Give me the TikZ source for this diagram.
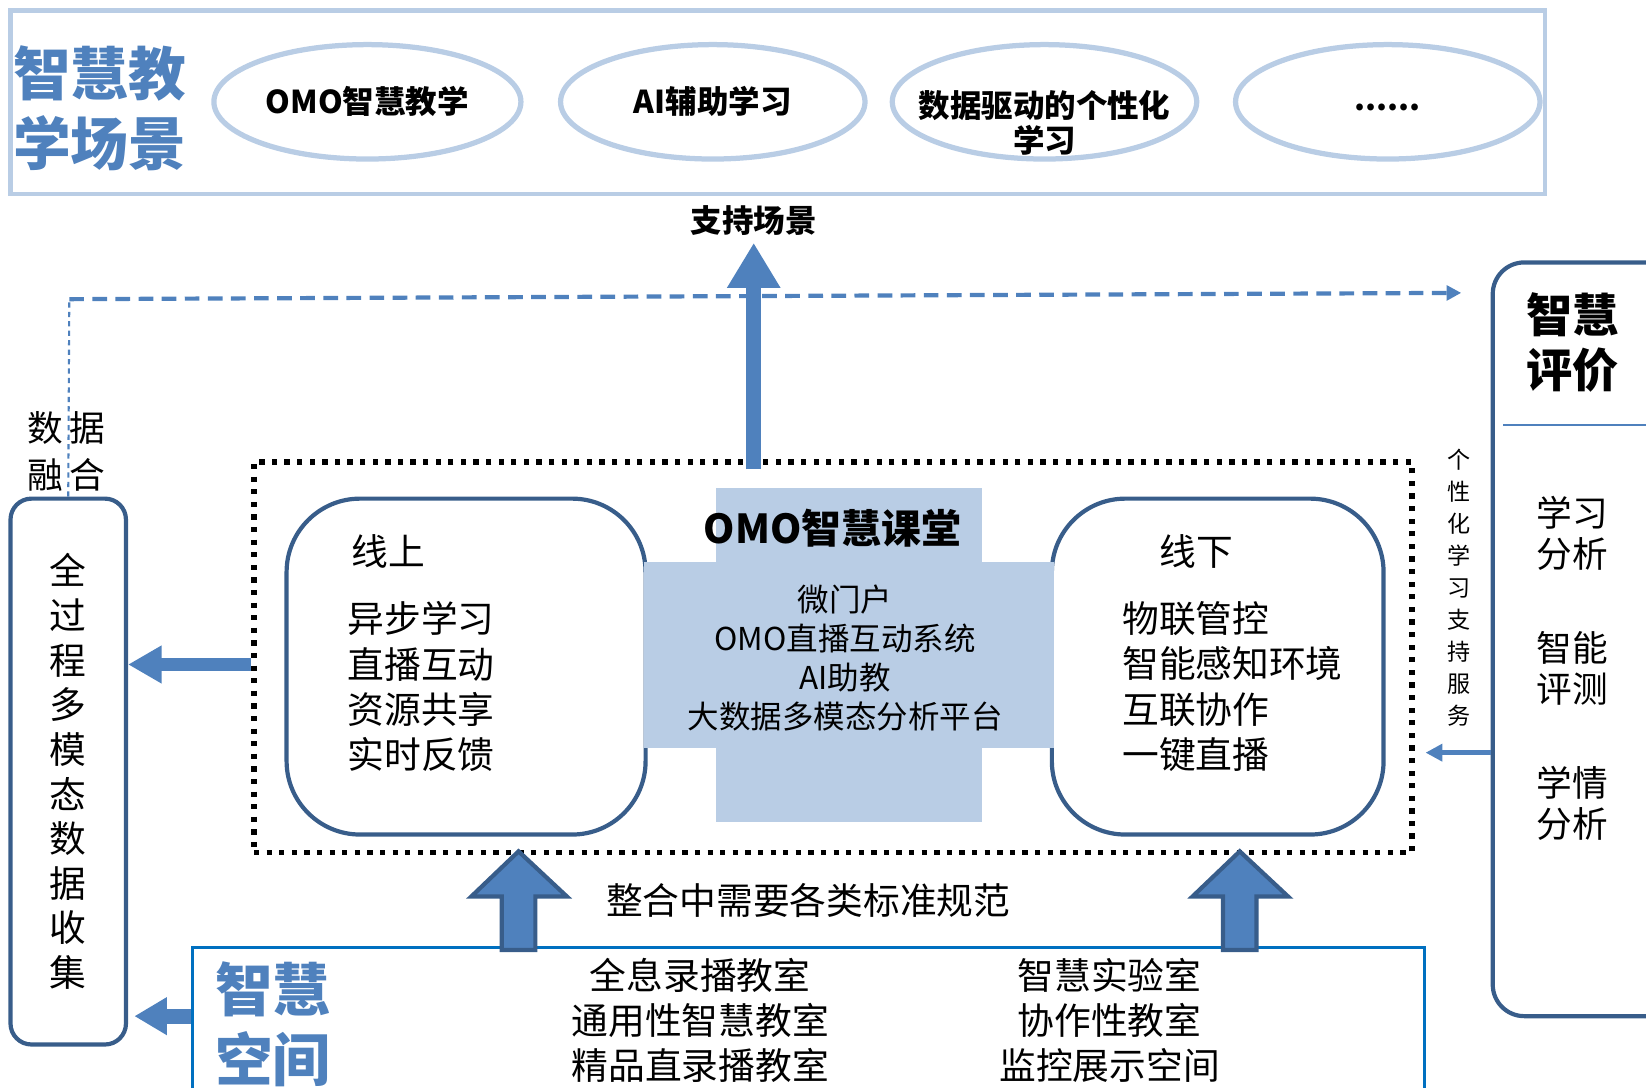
\documentclass[tikz,border=0pt]{standalone}
\usepackage{fontspec}
\setmainfont{Noto Sans CJK SC}
\usetikzlibrary{arrows.meta,shapes.geometric}

\definecolor{paleblue}{HTML}{B9CDE5}
\definecolor{midblue}{HTML}{4F81BD}
\definecolor{darkblue}{HTML}{385D8A}
\definecolor{lineblue}{HTML}{0070C0}

\begin{document}
\begin{tikzpicture}[x = 0.5pt, y = -0.5pt,
                    scene/.style = {ellipse, draw = paleblue, line width = 2.5pt, minimum width = 145pt, minimum height = 54.5pt,
                                    font = \fontsize{15}{16.5}\selectfont\bfseries, align = center},
                    roundbox/.style = {draw = darkblue, line width = 2pt, rounded corners = 35pt, minimum height = 160pt},
                    sidebox/.style = {draw = darkblue, line width = 2pt, align = center},
                    fatarrow/.style = {midblue, line width = 7pt, -{Triangle[width = 24pt, length = 21.5pt]}},
                    blockarrow/.style = {fill = midblue, draw = darkblue, line width = 2pt},
                    bigtitle/.style = {font = \fontsize{27.5}{33.5}\selectfont\bfseries, text = midblue, align = center},
                    txt/.style = {font = \fontsize{17.5}{21.5}\selectfont, align = left},
                    ctxt/.style = {font = \fontsize{17.5}{21.25}\selectfont, align = center}]

\useasboundingbox (0,0) rectangle (1568,1036);
\clip (0,0) rectangle (1568,1036);

% teaching scenes
\draw[paleblue, line width = 2pt] (10,10) rectangle (1472,185);
\node[bigtitle] (scenetitle) at (95,103) {智慧教\\学场景};
\node[scene] (sc1) at (350,97) {OMO智慧教学};
\node[scene] (sc2) at (679,97) {AI辅助学习};
\node[scene] (sc3) at (995,97) {};
\node[font = \fontsize{15}{16.5}\selectfont\bfseries, align = center] at (995,117) {数据驱动的个性化\\学习};
\node[scene] (sc4) at (1322,97) {\smash{\raisebox{-4pt}{......}}};

\node[font = \fontsize{15}{18}\selectfont\bfseries] (support) at (718,210) {支持场景};

% data fusion
\node[font = \fontsize{17}{22}\selectfont, align = center] (fusetext) at (63,430) {数\hspace{3pt}据\\融\hspace{3pt}合};
\node[sidebox, rounded corners = 10pt, minimum width = 55pt, minimum height = 260pt,
      font = \fontsize{17.5}{21.25}\selectfont] (collect) at (65,735)
      {全\\过\\程\\多\\模\\态\\数\\据\\收\\集};

% OMO classroom
\node[draw, line width = 2.5pt, dash pattern = on 2.5pt off 3.5pt, minimum width = 551.5pt, minimum height = 186pt] (omo) at (793.5,626) {};
\node[roundbox, minimum width = 171pt] (online) at (444,635) {};
\node[roundbox, minimum width = 158pt] (offline) at (1160,635) {};

\fill[paleblue] (682,465) rectangle (935,783);
\fill[paleblue] (613,535) rectangle (1004,713);

\node[font = \fontsize{19}{22}\selectfont\bfseries] (omotitle) at (793,503) {OMO智慧课堂};
\node[font = \fontsize{15}{18.5}\selectfont, align = center] (omoitems) at (805,627) {微门户\\OMO直播互动系统\\AI助教\\大数据多模态分析平台};

\node[txt] (ontitle) at (370,525) {线上};
\node[txt, anchor = west] (onitems) at (324,654) {异步学习\\直播互动\\资源共享\\实时反馈};
\node[txt] (offtitle) at (1140,525) {线下};
\node[txt, anchor = west] (offitems) at (1062,654) {物联管控\\智能感知环境\\互联协作\\一键直播};

% smart evaluation
\node[sidebox, rounded corners = 15pt, minimum width = 94pt, minimum height = 359pt] (eval) at (1516,609) {};
\node[font = \fontsize{22}{26}\selectfont\bfseries, align = center] (evaltitle) at (1498,326) {智慧\\评价};
\draw[midblue, line width = 1pt] (1432,405) -- (1568,405);
\node[font = \fontsize{17}{19.5}\selectfont, align = center] (ev1) at (1498,508) {学习\\分析};
\node[font = \fontsize{17}{19.5}\selectfont, align = center] (ev2) at (1498,637) {智能\\评测};
\node[font = \fontsize{17}{19.5}\selectfont, align = center] (ev3) at (1498,765) {学情\\分析};
\node[font = \fontsize{11}{15.25}\selectfont, align = center] (service) at (1390,560) {个\\性\\化\\学\\习\\支\\持\\服\\务};

% smart space
\node[draw = lineblue, line width = 1.5pt, minimum width = 587pt, minimum height = 78.5pt] (space) at (770,981.5) {};
\node[bigtitle] (spacetitle) at (260,976) {智慧\\空间};
\node[ctxt] (room1) at (667,972) {全息录播教室\\通用性智慧教室\\精品直录播教室};
\node[ctxt] (room2) at (1057,972) {智慧实验室\\协作性教室\\监控展示空间};
\node[ctxt] (norm) at (770,858) {整合中需要各类标准规范};

% connectors
\coordinate (fuse) at (66,285);
\coordinate (evaltip) at (1392,279);
\coordinate (pls) at (1358,717);
\coordinate (sp1) at (494,905);
\coordinate (sp2) at (1181,905);

\draw[midblue, line width = 1pt, dash pattern = on 2.5pt off 2pt] (collect.north) -- (fuse);
\draw[midblue, line width = 2pt, dash pattern = on 7pt off 4pt, -{Triangle[width = 7pt, length = 7pt]}] (fuse) -- (evaltip);

\draw[fatarrow] (support |- 0,447) -- (support.south);
\draw[midblue, line width = 6pt, -{Triangle[width = 17pt, length = 16pt]}] ([yshift = -3.5pt]omo.west) -- (collect.east |- 0,633);
\draw[midblue, line width = 7pt, -{Triangle[width = 17pt, length = 15.5pt]}] (space.west |- 0,968) -- ([xshift = 3pt]collect.east |- 0,968);
\draw[midblue, line width = 2.5pt, -{Triangle[width = 8pt, length = 8pt]}] (eval.west |- pls) -- (pls);

\filldraw[blockarrow] (sp1) ++(-16,0) -- ++(0,-51) -- ++(-29,0) -- ++(45,-43) -- ++(46,43) -- ++(-30,0) -- ++(0,51) -- cycle;
\filldraw[blockarrow] (sp2) ++(-16,0) -- ++(0,-51) -- ++(-29,0) -- ++(45,-43) -- ++(46,43) -- ++(-30,0) -- ++(0,51) -- cycle;

\end{tikzpicture}
\end{document}
